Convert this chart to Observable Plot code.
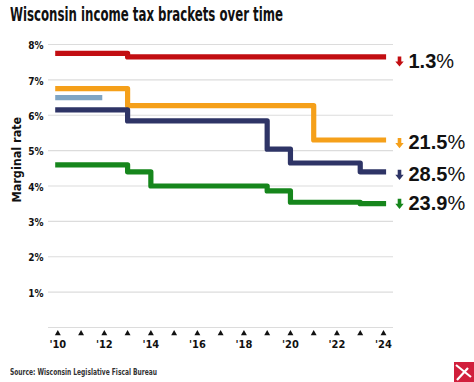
<!DOCTYPE html>
<html><head><meta charset="utf-8">
<script src="https://cdn.jsdelivr.net/npm/d3@7"></script>
<script src="https://cdn.jsdelivr.net/npm/@observablehq/plot@0.6"></script>
<style>
body{margin:0;background:#fff;}
#wrap{position:relative;width:474px;height:382px;overflow:hidden;font-family:"Liberation Sans Narrow","DejaVu Sans Condensed","Liberation Sans",sans-serif;}
#title{position:absolute;left:10px;top:5px;font-size:19px;line-height:19px;font-weight:bold;color:#111;white-space:nowrap;transform-origin:0 0;}
#chart{position:absolute;left:0;top:30px;}
#source{position:absolute;left:10px;top:368px;font-size:9px;line-height:9px;font-weight:bold;color:#333;white-space:nowrap;transform-origin:0 0;}
#logo{position:absolute;left:454px;top:362px;}
</style></head><body>
<div id="wrap">
<div id="title">Wisconsin income tax brackets over time</div>
<div id="chart"></div>
<div id="source">Source: Wisconsin Legislative Fiscal Bureau</div>
<svg id="logo" width="20" height="20" viewBox="0 0 20 20">
  <rect width="20" height="20" fill="#d11f3c"/>
  <path d="M2 3 L17 15" stroke="#fff" stroke-width="2.2"/>
  <path d="M3 18 L14 6" stroke="#fff" stroke-width="2.2"/>
</svg>
</div>
<script>
// ---- data ----
const yearTicks = [2010,2011,2012,2013,2014,2015,2016,2017,2018,2019,2020,2021,2022,2023,2024];
const yearLabels = [2010,2012,2014,2016,2018,2020,2022,2024];
const rateTicks = [1,2,3,4,5,6,7,8];
const gridRates = [0,1,2,3,4,5,6,7,8];

const topYears = [2010, 2013, 2024];
const topRates = [7.75, 7.65, 7.65];
const thirdYears = [2010, 2013, 2021, 2024];
const thirdRates = [6.75, 6.27, 5.3, 5.3];
const secondYears = [2010, 2013, 2019, 2020, 2023, 2024];
const secondRates = [6.15, 5.84, 5.04, 4.65, 4.4, 4.4];
const bottomYears = [2010, 2013, 2014, 2019, 2020, 2023, 2024];
const bottomRates = [4.6, 4.4, 4.0, 3.86, 3.54, 3.5, 3.5];
const extraYears = [2010, 2011.8];
const extraRates = [6.5, 6.5];

const changeLabels = ["1.3%", "21.5%", "28.5%", "23.9%"];

// ---- build ----
const toRows = (xs, ys) => xs.map((x, i) => ({year: x, rate: ys[i]}));
const series = [
  {rows: toRows(topYears, topRates), color: "#c20e12", label: changeLabels[0], dy: 4.5},
  {rows: toRows(thirdYears, thirdRates), color: "#f5a01a", label: changeLabels[1], dy: 3},
  {rows: toRows(secondYears, secondRates), color: "#2e3466", label: changeLabels[2], dy: 3},
  {rows: toRows(bottomYears, bottomRates), color: "#16861c", label: changeLabels[3], dy: 0}
];
const extra = {rows: toRows(extraYears, extraRates), color: "#7fa5c4"};

const arrowSymbol = {
  draw(ctx) {
    ctx.moveTo(-1.8, -5); ctx.lineTo(1.8, -5); ctx.lineTo(1.8, 0);
    ctx.lineTo(4.2, 0); ctx.lineTo(0, 5.2); ctx.lineTo(-4.2, 0);
    ctx.lineTo(-1.8, 0); ctx.closePath();
  }
};

const lineOpts = (s) => ({x: "year", y: "rate", curve: "step-after", stroke: s.color,
  strokeWidth: 5.2, strokeLinecap: "square", strokeLinejoin: "round"});

const marks = [
  Plot.ruleY(gridRates, {stroke: "#dcdcdc", strokeWidth: 1.2}),
  Plot.axisY(rateTicks, {tickSize: 0, tickPadding: 5, tickFormat: d => d + "%", fontSize: 10, fontWeight: "bold", fill: "#111", dy: 1.5, label: null}),
  Plot.axisX(yearLabels, {tickSize: 0, tickPadding: 13, tickFormat: d => "'" + String(d).slice(2), fontSize: 11, fontWeight: "bold", fill: "#111", label: null}),
  Plot.dot(yearTicks, {x: d => d, y: () => 0, dy: 6, symbol: "triangle", r: 2.2, fill: "#111", stroke: null}),
  Plot.text(["Marginal rate"], {frameAnchor: "left", dx: -32, dy: 16.5, rotate: -90, fontSize: 12.5, fontWeight: "bold", fill: "#111"}),
  Plot.line(extra.rows, lineOpts(extra))
];
for (const s of series) {
  marks.push(Plot.line(s.rows, lineOpts(s)));
  const last = [s.rows[s.rows.length - 1]];
  marks.push(Plot.dot(last, {x: "year", y: "rate", dx: 16, dy: s.dy, symbol: arrowSymbol, r: 4, fill: s.color, stroke: null}));
  marks.push(Plot.text(last, {x: "year", y: "rate", text: () => s.label, dx: 25, dy: s.dy, textAnchor: "start",
    fontSize: 20, fontWeight: "bold", fontFamily: "'Liberation Sans', Arial, sans-serif", fill: "#111"}));
}

const chart = Plot.plot({
  width: 474, height: 330,
  marginTop: 14, marginBottom: 33, marginLeft: 48, marginRight: 81,
  x: {domain: [2009.6, 2024.43], label: null},
  y: {domain: [0, 8], label: null},
  style: {fontFamily: "'Liberation Sans Narrow', 'DejaVu Sans Condensed', sans-serif", background: "transparent", overflow: "visible"},
  marks
});
document.getElementById("chart").appendChild(chart);

// lighter weight for the % sign in the change labels
d3.select(chart).selectAll("text").each(function() {
  const t = this.textContent;
  if (changeLabels.includes(t)) {
    const el = d3.select(this);
    el.text(null);
    el.append("tspan").text(t.slice(0, -1));
    el.append("tspan").attr("font-weight", "normal").text("%");
  }
});

// condense title and source text to the reference widths
function fitWidth(id, target) {
  const el = document.getElementById(id);
  const w = el.getBoundingClientRect().width;
  if (w > 0) el.style.transform = `scaleX(${target / w})`;
}
fitWidth("title", 273);
fitWidth("source", 147);
</script>
</body></html>
